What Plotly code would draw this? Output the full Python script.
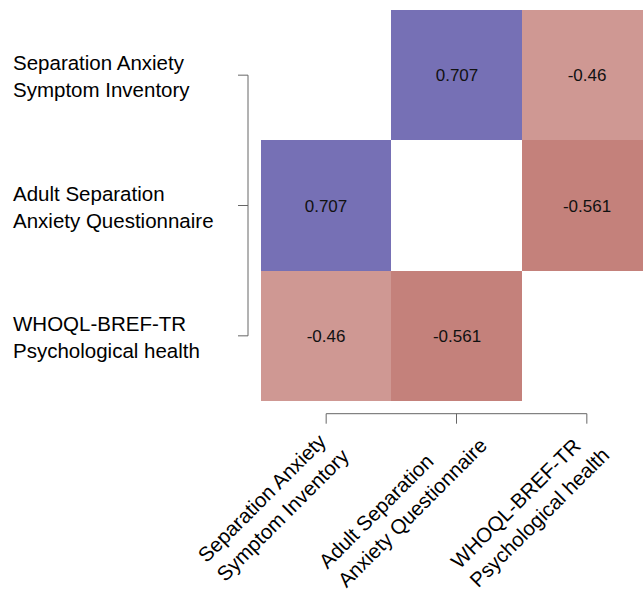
import math
import plotly.graph_objects as go

# ---- data ----
variables = [
    "Separation Anxiety<br>Symptom Inventory",
    "Adult Separation<br>Anxiety Questionnaire",
    "WHOQL-BREF-TR<br>Psychological health",
]
corr_row1 = [None, 0.707, -0.46]
corr_row2 = [0.707, None, -0.561]
corr_row3 = [-0.46, -0.561, None]
corr = [corr_row1, corr_row2, corr_row3]

# ---- style / layout constants ----
FONT = "Liberation Sans, Arial, sans-serif"
colorscale = [[0.0, "rgb(150,31,20)"], [0.5, "rgb(255,255,255)"], [1.0, "rgb(61,53,150)"]]
W, H = 643, 595
L, R, T, B = 261, 0, 10, 194
plot_h = H - T - B
cell = plot_h / 3.0
plot_w = W - L - R
x_range = [-0.5, -0.5 + plot_w / cell]
label_nudge_along = [12, 1, 2]  # px along rotated text direction
label_nudge_perp = [7, 4, 5]    # px perpendicular (down-right)

n = len(variables)
idx = list(range(n))

text = [["" if v is None else f"{v:g}" for v in row] for row in corr]

fig = go.Figure(
    go.Heatmap(
        z=corr,
        x=idx,
        y=idx,
        text=text,
        texttemplate="%{text}",
        textfont=dict(family=FONT, size=17, color="#111111"),
        colorscale=colorscale,
        zmin=-1,
        zmax=1,
        showscale=False,
        hoverongaps=False,
    )
)

shapes = []
line_style = dict(color="#666666", width=1)
# y bracket
shapes.append(dict(type="line", xref="paper", xsizemode="pixel", xanchor=0,
                   x0=-13, x1=-13, yref="y", y0=0, y1=n - 1, line=line_style))
for i in idx:
    shapes.append(dict(type="line", xref="paper", xsizemode="pixel", xanchor=0,
                       x0=-23, x1=-13, yref="y", y0=i, y1=i, line=line_style))
# x bracket
shapes.append(dict(type="line", yref="paper", ysizemode="pixel", yanchor=0,
                   y0=-12.7, y1=-12.7, xref="x", x0=0, x1=n - 1, line=line_style))
for i in idx:
    shapes.append(dict(type="line", yref="paper", ysizemode="pixel", yanchor=0,
                       y0=-12.7, y1=-22.7, xref="x", x0=i, x1=i, line=line_style))

LABEL_SIZE = 20.5
annotations = []
for i, lab in enumerate(variables):
    annotations.append(dict(
        text=lab, xref="paper", x=0, xanchor="left", xshift=-250,
        yref="y", y=i, yanchor="middle", yshift=-1, align="left", showarrow=False,
        font=dict(family=FONT, size=LABEL_SIZE, color="#000000"),
    ))
    a = label_nudge_along[i] / math.sqrt(2)
    p = label_nudge_perp[i] / math.sqrt(2)
    annotations.append(dict(
        text=lab, xref="x", x=i, xanchor="left", xshift=-149 + a + p,
        yref="paper", y=0, yanchor="bottom", yshift=-191 + a - p,
        textangle=-45, align="left", showarrow=False,
        font=dict(family=FONT, size=LABEL_SIZE, color="#000000"),
    ))

fig.update_layout(
    width=W, height=H,
    margin=dict(l=L, r=R, t=T, b=B, pad=0),
    paper_bgcolor="white", plot_bgcolor="white",
    xaxis=dict(range=x_range, showticklabels=False, showgrid=False, zeroline=False,
               showline=False, ticks=""),
    yaxis=dict(range=[n - 0.5, -0.5], showticklabels=False, showgrid=False,
               zeroline=False, showline=False, ticks=""),
    shapes=shapes,
    annotations=annotations,
    showlegend=False,
)

fig.write_html("out.html", config={"displayModeBar": False},
               post_script="document.body.style.margin='0';")
